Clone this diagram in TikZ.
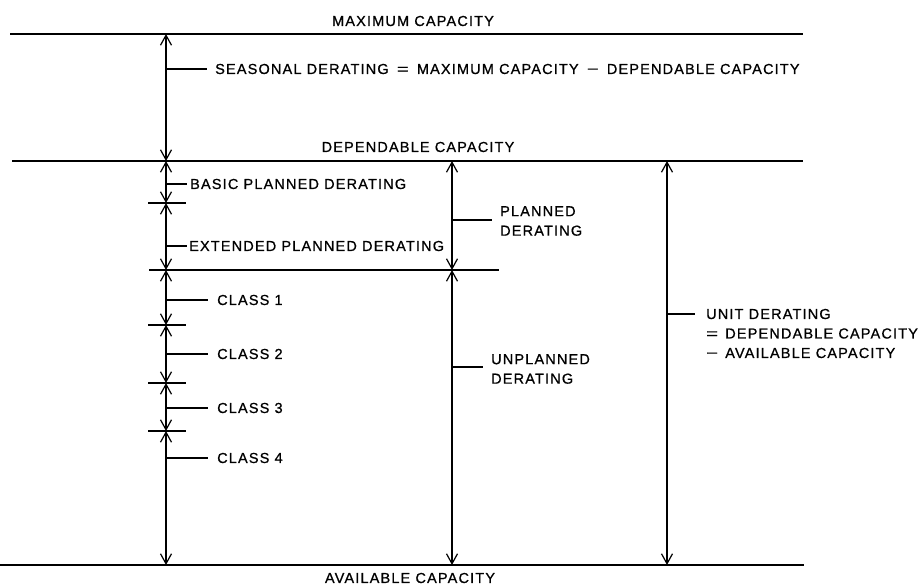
\documentclass[tikz,border=0pt]{standalone}
\usepackage{graphicx}
\usepackage{fontspec}
\setmainfont{Liberation Sans}[LetterSpace=8,FakeBold=0.8]
\usetikzlibrary{arrows.meta}
\newcommand{\wideeq}{\scalebox{1.4}[1]{=}}
\newcommand{\wideminus}{\scalebox{1.4}[1]{−}}
\begin{document}
\begin{tikzpicture}[x=1pt,y=-1pt,
  lvl/.style={line width=1.3pt},
  dimarrow/.style={line width=1.2pt,{Straight Barb[length=10pt,width=11pt]}-{Straight Barb[length=10pt,width=11pt]}},
  lead/.style={line width=1.1pt},
  crossbar/.style={line width=1.1pt},
  lbl/.style={inner sep=0pt,anchor=west,font=\fontsize{14.5}{19.5}\selectfont,align=left},
  ttl/.style={inner sep=0pt,anchor=center,font=\fontsize{14.5}{19.5}\selectfont}]
\useasboundingbox (0,0) rectangle (919,585);
% level lines
\coordinate (maxL) at (10,34);  \coordinate (maxR) at (803,34);
\coordinate (depL) at (12,161); \coordinate (depR) at (803,161);
\coordinate (plL) at (149,270); \coordinate (plR) at (499,270);
\coordinate (avL) at (0,565);   \coordinate (avR) at (804,565);
\draw[lvl] (maxL) -- (maxR);
\draw[lvl] (depL) -- (depR);
\draw[lvl] (plL) -- (plR);
\draw[lvl] (avL) -- (avR);
% titles
\node[ttl] (tmax) at (413,21) {MAXIMUM CAPACITY};
\node[ttl] (tdep) at (418,147) {DEPENDABLE CAPACITY};
\node[ttl] (tav) at (410,578) {AVAILABLE CAPACITY};
% left column
\coordinate (a0) at (166,34);
\coordinate (a1) at (166,161);
\coordinate (a2) at (166,203);
\coordinate (a3) at (166,270);
\coordinate (a4) at (166,325);
\coordinate (a5) at (166,383);
\coordinate (a6) at (166,431);
\coordinate (a7) at (166,565);
\draw[dimarrow] (a0) -- (a1);
\draw[dimarrow] (a1) -- (a2);
\draw[dimarrow] (a2) -- (a3);
\draw[dimarrow] (a3) -- (a4);
\draw[dimarrow] (a4) -- (a5);
\draw[dimarrow] (a5) -- (a6);
\draw[dimarrow] (a6) -- (a7);
\foreach \n/\y in {2/203,4/325,5/383,6/431}{
  \coordinate (cb\n l) at (148,\y); \coordinate (cb\n r) at (186,\y);
  \draw[crossbar] (cb\n l) -- (cb\n r);
}
% left labels
\coordinate (ls0) at (166,69);  \coordinate (ls1) at (207,69);
\node[lbl] (seas) at (215,69) {SEASONAL DERATING\hspace{3pt} \wideeq\hspace{3pt} MAXIMUM CAPACITY\hspace{3pt} \wideminus\hspace{3pt} DEPENDABLE CAPACITY};
\draw[lead] (ls0) -- (ls1);
\coordinate (lb0) at (166,184); \coordinate (lb1) at (187,184);
\node[lbl] (basic) at (190,184) {BASIC PLANNED DERATING};
\draw[lead] (lb0) -- (lb1);
\coordinate (le0) at (166,246); \coordinate (le1) at (187,246);
\node[lbl] (ext) at (189,246) {EXTENDED PLANNED DERATING};
\draw[lead] (le0) -- (le1);
\foreach \k/\y in {1/300,2/354,3/408,4/458}{
  \coordinate (lc\k a) at (166,\y); \coordinate (lc\k b) at (208,\y);
  \node[lbl] (cls\k) at (217,\y) {CLASS \k};
  \draw[lead] (lc\k a) -- (lc\k b);
}
% middle column
\coordinate (m0) at (452,161);
\coordinate (m1) at (452,270);
\coordinate (m2) at (452,565);
\draw[dimarrow] (m0) -- (m1);
\draw[dimarrow] (m1) -- (m2);
\coordinate (lp0) at (452,220); \coordinate (lp1) at (492,220);
\node[lbl] (planned) at (500,221) {PLANNED\\DERATING};
\draw[lead] (lp0) -- (lp1);
\coordinate (lu0) at (452,367); \coordinate (lu1) at (483,367);
\node[lbl] (unplanned) at (491,369) {UNPLANNED\\DERATING};
\draw[lead] (lu0) -- (lu1);
% right column
\coordinate (r0) at (667,161);
\coordinate (r1) at (667,565);
\draw[dimarrow] (r0) -- (r1);
\coordinate (lr0) at (667,314); \coordinate (lr1) at (695,314);
\node[lbl] (unit) at (706,333.5) {UNIT DERATING\\\wideeq\hspace{2pt} DEPENDABLE CAPACITY\\\wideminus\hspace{2pt} AVAILABLE CAPACITY};
\draw[lead] (lr0) -- (lr1);
\end{tikzpicture}
\end{document}
